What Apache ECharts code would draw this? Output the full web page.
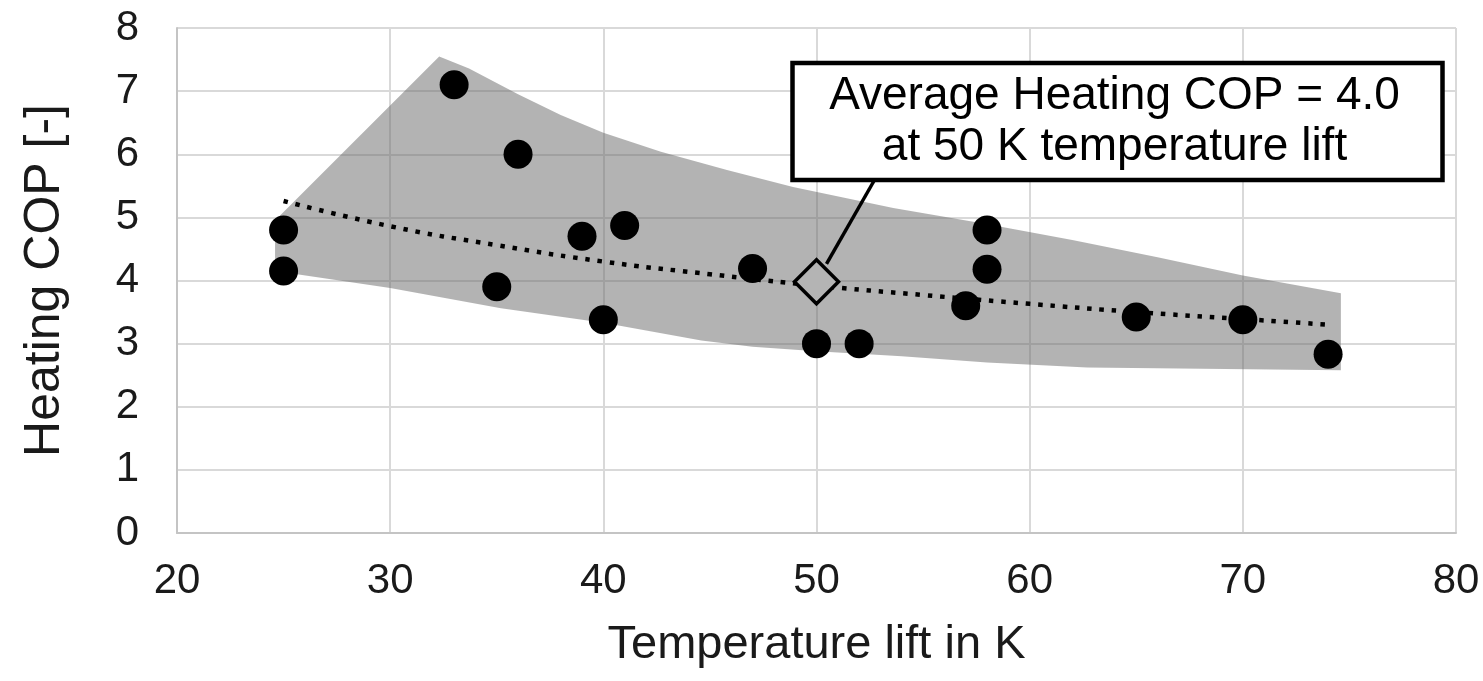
<!DOCTYPE html>
<html>
<head>
<meta charset="utf-8">
<script src="https://cdn.jsdelivr.net/npm/echarts@6/dist/echarts.min.js"></script>
<style>
html,body{margin:0;padding:0;background:#fff;}
#chart{width:1483px;height:681px;}
</style>
</head>
<body>
<div id="chart"></div>
<script>
// ---- data ----
const xTicks = [20, 30, 40, 50, 60, 70, 80];
const yTicks = [0, 1, 2, 3, 4, 5, 6, 7, 8];

const measuredLift = [25, 25, 33, 35, 36, 39, 40, 41, 47, 50, 52, 57, 58, 58, 65, 70, 74];
const measuredCOP  = [4.8, 4.15, 7.1, 3.9, 6.0, 4.7, 3.38, 4.87, 4.19, 3.0, 3.0, 3.6, 4.8, 4.18, 3.42, 3.38, 2.83];

const trendLift = [25, 30, 35, 40, 45, 50, 55, 60, 65, 70, 74];
const trendCOP  = [5.26, 4.86, 4.56, 4.3, 4.1, 3.92, 3.77, 3.63, 3.5, 3.39, 3.3];

const bandUpperLift = [24.6, 32.3, 33.7, 36, 38, 40, 42.7, 45.8, 48.9, 53.6, 57.7, 62, 66, 70, 74.6];
const bandUpperCOP  = [4.95, 7.55, 7.36, 6.95, 6.62, 6.34, 6.04, 5.75, 5.48, 5.15, 4.91, 4.64, 4.37, 4.08, 3.8];
const bandLowerLift = [24.6, 30, 35.2, 40, 44.6, 47, 50, 54, 58, 62.7, 74.6];
const bandLowerCOP  = [4.15, 3.88, 3.56, 3.33, 3.05, 2.95, 2.88, 2.8, 2.7, 2.62, 2.58];

const averageLift = [50];
const averageCOP  = [3.98];

const annotationText = 'Average Heating COP = 4.0\nat 50 K temperature lift';
const xTitle = 'Temperature lift in K';
const yTitle = 'Heating COP [-]';

// ---- build ----
const FONT = '"Liberation Sans", Arial, sans-serif';
const scatterData = measuredLift.map((x, i) => [x, measuredCOP[i]]);
const trendData = trendLift.map((x, i) => [x, trendCOP[i]]);
const bandPoly = bandUpperLift.map((x, i) => [x, bandUpperCOP[i]])
  .concat(bandLowerLift.map((x, i) => [x, bandLowerCOP[i]]).reverse());
const avgData = averageLift.map((x, i) => [x, averageCOP[i]]);

const chart = echarts.init(document.getElementById('chart'), null, {renderer: 'canvas'});

const option = {
  animation: false,
  backgroundColor: '#ffffff',
  grid: {left: 177, right: 27, top: 28, bottom: 148, containLabel: false},
  xAxis: {
    type: 'value', min: xTicks[0], max: xTicks[xTicks.length - 1], interval: 10,
    axisLine: {show: true, lineStyle: {color: '#c4c4c4', width: 2}},
    axisTick: {show: false},
    splitLine: {show: true, lineStyle: {color: '#d9d9d9', width: 2}},
    axisLabel: {fontSize: 42, color: '#1a1a1a', fontFamily: FONT, margin: 27},
    name: xTitle, nameLocation: 'middle', nameGap: 89,
    nameTextStyle: {fontSize: 47, color: '#1a1a1a', fontFamily: FONT}
  },
  yAxis: {
    type: 'value', min: yTicks[0], max: yTicks[yTicks.length - 1], interval: 1,
    axisLine: {show: true, lineStyle: {color: '#c4c4c4', width: 2}},
    axisTick: {show: false},
    splitLine: {show: true, lineStyle: {color: '#d9d9d9', width: 2}},
    axisLabel: {fontSize: 42, color: '#1a1a1a', fontFamily: FONT, margin: 38},
    name: yTitle, nameLocation: 'middle', nameGap: 107, nameRotate: 90,
    nameTextStyle: {fontSize: 50, color: '#1a1a1a', fontFamily: FONT}
  },
  series: [
    {
      type: 'custom', z: 1, silent: true,
      data: bandPoly,
      encode: {x: 0, y: 1},
      renderItem: function (params, api) {
        if (params.dataIndex !== 0) return null;
        const pts = bandPoly.map(p => api.coord(p));
        return {
          type: 'polygon',
          shape: {points: pts, smooth: 0},
          style: {fill: 'rgba(105,105,105,0.51)', stroke: null}
        };
      }
    },
    {
      type: 'line', z: 2, data: trendData, smooth: true, symbol: 'none',
      lineStyle: {color: '#000', width: 4.5, type: [4.5, 7.8], cap: 'butt'}
    },
    {
      type: 'scatter', z: 3, data: scatterData, symbol: 'circle', symbolSize: 29,
      itemStyle: {color: '#000', opacity: 1}
    },
    {
      type: 'scatter', z: 4, data: avgData, symbol: 'diamond', symbolSize: [44, 44],
      itemStyle: {color: '#b4b4b4', borderColor: '#000', borderWidth: 3.5, opacity: 1}
    }
  ]
};
chart.setOption(option);

// annotation box + leader line anchored to the average point
const c = chart.convertToPixel({seriesIndex: 3}, avgData[0]);
const boxL = c[0] - 24, boxT = 63, boxW = 650, boxH = 117;
chart.setOption({
  graphic: [
    {
      type: 'line', z: 20,
      shape: {x1: c[0] + 10, y1: c[1] - 18, x2: boxL + 82, y2: boxT + boxH},
      style: {stroke: '#000', lineWidth: 3.5}
    },
    {
      type: 'rect', z: 21,
      shape: {x: boxL, y: boxT, width: boxW, height: boxH},
      style: {fill: '#fff', stroke: '#000', lineWidth: 4.5}
    },
    {
      type: 'text', z: 22,
      style: {
        text: annotationText, x: boxL + boxW / 2 - 3, y: boxT + boxH / 2 + 0.5,
        align: 'center', verticalAlign: 'middle',
        fontSize: 46, fontFamily: FONT, lineHeight: 51, fill: '#000'
      }
    }
  ]
});
</script>
</body>
</html>
